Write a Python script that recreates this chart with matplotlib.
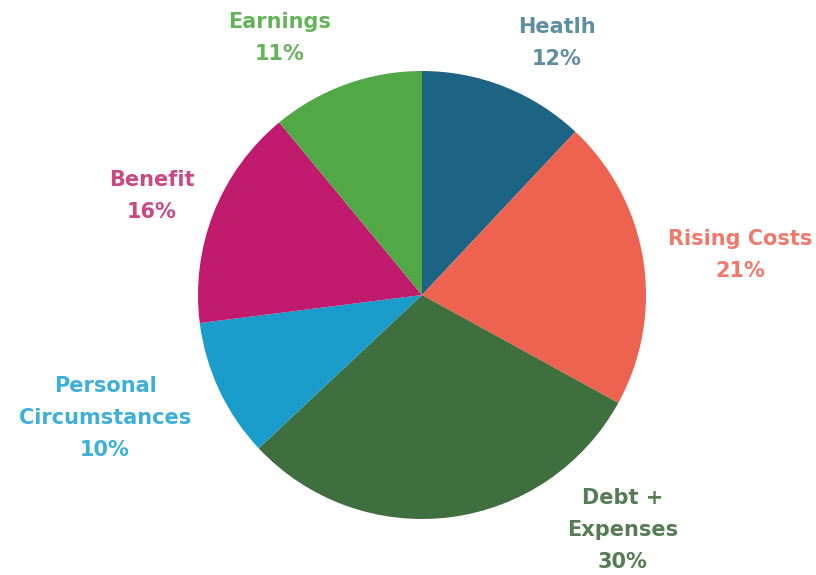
import matplotlib.pyplot as plt

# datos del gráfico (sentido horario desde arriba)
categorias = ["Heatlh", "Rising Costs", "Debt +\nExpenses", "Personal\nCircumstances", "Benefit", "Earnings"]
porcentajes = [12, 21, 30, 10, 16, 11]
colores = ["#1d6384", "#ee634f", "#3f6f3e", "#1a9dca", "#c11b6f", "#52a847"]
colores_texto = ["#5f8ea2", "#f0796b", "#557c55", "#3cb0d8", "#c84a82", "#66b45a"]

# posición de cada etiqueta (en radios del círculo)
pos_etiquetas = [(0.603, 1.125), (1.42, 0.179), (0.897, -1.049),
                 (-1.415, -0.549), (-1.205, 0.442), (-0.634, 1.147)]

fig = plt.figure(figsize=(8.16, 5.75), dpi=100)
ax = fig.add_axes([0, 0, 1, 1])

ax.pie(porcentajes, colors=colores, startangle=90, counterclock=False,
       radius=1, center=(0, 0), wedgeprops={"linewidth": 0})

for cat, pct, col, (x, y) in zip(categorias, porcentajes, colores_texto, pos_etiquetas):
    ax.text(x, y, f"{cat}\n{pct}%", color=col, fontsize=15, fontweight="bold",
            ha="center", va="center", linespacing=1.75, family="DejaVu Sans")

ax.set_xlim(-422 / 224, (816 - 422) / 224)
ax.set_ylim(-(575 - 295) / 224, 295 / 224)
ax.set_aspect("equal")
ax.axis("off")

fig.savefig("out.png", dpi=100)
